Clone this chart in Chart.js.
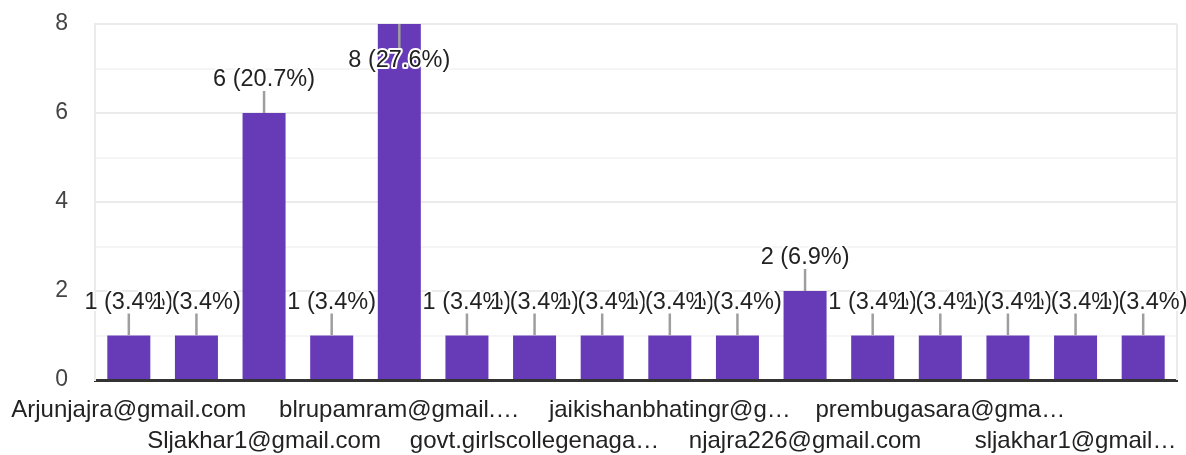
<!DOCTYPE html>
<html>
<head>
<meta charset="utf-8">
<script src="https://cdn.jsdelivr.net/npm/chart.js@4/dist/chart.umd.min.js"></script>
<style>
  body { margin: 0; background: #fff; }
  canvas { display: block; }
</style>
</head>
<body>
<canvas id="myChart" width="1186" height="455"></canvas>
<script>
// answers (hidden odd labels could not be read off the picture)
const categories = [
    'Arjunjajra@gmail.com', '',
    'Sljakhar1@gmail.com', '',
    'blrupamram@gmail.…', '',
    'govt.girlscollegenaga…', '',
    'jaikishanbhatingr@g…', '',
    'njajra226@gmail.com', '',
    'prembugasara@gma…', '',
    'sljakhar1@gmail…', '',
];
const counts = [1, 1, 6, 1, 8, 1, 1, 1, 1, 1, 2, 1, 1, 1, 1, 1];
const yTicks = [0, 2, 4, 6, 8];

const total = counts.reduce((a, b) => a + b, 0);
const FONT = '"Liberation Sans", Arial, sans-serif';

// value labels with a leader line, white halo round the text
const barLabels = {
    id: 'barLabels',
    afterDatasetsDraw(chart) {
        const ctx = chart.ctx;
        const meta = chart.getDatasetMeta(0);
        const area = chart.chartArea;
        ctx.save();
        ctx.font = '23.5px ' + FONT;
        ctx.textAlign = 'center';
        ctx.textBaseline = 'middle';
        meta.data.forEach((bar, i) => {
            const v = counts[i];
            const text = v + ' (' + (v / total * 100).toFixed(1) + '%)';
            let lineEnd = bar.y - 22;
            let textY = bar.y - 33;
            if (textY - 12 < area.top) {
                lineEnd = bar.y + 24;
                textY = bar.y + 37;
            }
            ctx.strokeStyle = '#9e9e9e';
            ctx.lineWidth = 2.5;
            ctx.beginPath();
            ctx.moveTo(bar.x, bar.y);
            ctx.lineTo(bar.x, lineEnd);
            ctx.stroke();
            ctx.strokeStyle = '#fff';
            ctx.lineWidth = 4;
            ctx.lineJoin = 'round';
            ctx.strokeText(text, bar.x, textY);
            ctx.fillStyle = '#222';
            ctx.fillText(text, bar.x, textY);
        });
        ctx.restore();
    }
};

const rightBorder = {
    id: 'rightBorder',
    beforeDatasetsDraw(chart) {
        const a = chart.chartArea;
        const ctx = chart.ctx;
        ctx.save();
        ctx.strokeStyle = '#ebebeb';
        ctx.lineWidth = 2;
        ctx.beginPath();
        ctx.moveTo(a.right, a.top);
        ctx.lineTo(a.right, a.bottom);
        ctx.stroke();
        ctx.restore();
    }
};

const ctx = document.getElementById('myChart');
new Chart(ctx, {
    type: 'bar',
    data: {
        labels: categories,
        datasets: [{
            data: counts,
            backgroundColor: '#673ab7',
            barPercentage: 0.636,
            categoryPercentage: 1,
        }]
    },
    plugins: [rightBorder, barLabels],
    options: {
        responsive: false,
        devicePixelRatio: 1,
        animation: false,
        layout: { padding: { top: 24, right: 9, left: 0, bottom: 0 } },
        plugins: {
            legend: { display: false },
            tooltip: { enabled: false },
        },
        scales: {
            x: {
                grid: { display: false, drawTicks: false },
                border: { color: '#333', width: 3 },
                afterFit(scale) {
                    scale.height = 75;
                    scale.paddingLeft = 0;
                    scale.paddingRight = 0;
                },
                ticks: {
                    autoSkip: false,
                    maxRotation: 0,
                    minRotation: 0,
                    padding: 15,
                    color: '#222',
                    font: { family: FONT, size: 24, lineHeight: 1.3 },
                    callback(value, index) {
                        const name = categories[index];
                        if (!name) return '';
                        return (index / 2) % 2 === 0 ? [name, ''] : ['', name];
                    }
                }
            },
            y: {
                min: 0,
                max: 8,
                afterFit(scale) {
                    scale.width = 95;
                    scale.paddingTop = 0;
                    scale.paddingBottom = 0;
                },
                afterBuildTicks(scale) {
                    scale.ticks = [0, 1, 2, 3, 4, 5, 6, 7, 8].map(v => ({ value: v }));
                },
                grid: {
                    drawTicks: false,
                    lineWidth: 2,
                    color: (c) => (c.tick && c.tick.value % 2 === 0) ? '#ebebeb' : '#f5f5f5',
                },
                border: { color: '#ebebeb', width: 2 },
                ticks: {
                    padding: 27,
                    color: '#444',
                    font: { family: FONT, size: 23 },
                    callback(value) {
                        return yTicks.includes(value) ? String(value) : '';
                    }
                }
            }
        }
    }
});
</script>
</body>
</html>
